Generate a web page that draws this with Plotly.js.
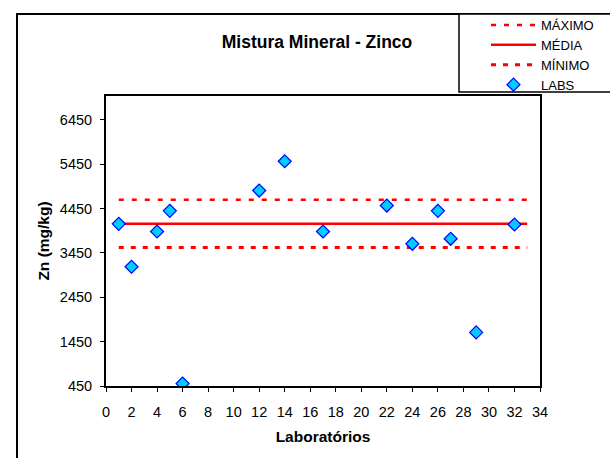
<!DOCTYPE html>
<html>
<head>
<meta charset="utf-8">
<script src="https://cdn.plot.ly/plotly-3.0.1.min.js"></script>
<style>html,body{margin:0;padding:0;background:#fff;}#chart{width:610px;height:458px;}</style>
</head>
<body>
<div id="chart"></div>
<script>
// Data
var labIds = [1, 2, 4, 5, 6, 12, 14, 17, 22, 24, 26, 27, 29, 32];
var labValues = [4108, 3139, 3934, 4400, 504, 4858, 5518, 3934, 4520, 3657, 4400, 3770, 1659, 4092];
var refX = [1, 33];
var maximo = 4648;
var media = 4108;
var minimo = 3574;
var xTicks = [0, 2, 4, 6, 8, 10, 12, 14, 16, 18, 20, 22, 24, 26, 28, 30, 32, 34];
var yTicks = [450, 1450, 2450, 3450, 4450, 5450, 6450];

var font = 'Liberation Sans, Arial, sans-serif';

var traces = [
  {x: refX, y: [maximo, maximo], name: 'MÁXIMO', mode: 'lines',
   line: {color: '#FF0000', width: 2.5, dash: '5px,8px'}},
  {x: refX, y: [media, media], name: 'MÉDIA', mode: 'lines',
   line: {color: '#FF0000', width: 2.5}},
  {x: refX, y: [minimo, minimo], name: 'MÍNIMO', mode: 'lines',
   line: {color: '#FF0000', width: 3, dash: '5px,7px'}},
  {x: labIds, y: labValues, name: 'LABS', mode: 'markers',
   marker: {symbol: 'diamond', size: 10, color: '#00CCFF', line: {color: '#0000FF', width: 1.2}}}
];

var layout = {
  width: 610, height: 458,
  margin: {l: 106, r: 70, t: 96, b: 72, autoexpand: false},
  paper_bgcolor: '#ffffff', plot_bgcolor: '#ffffff',
  font: {family: font, size: 12, color: '#000'},
  showlegend: true,
  title: {text: '<b>Mistura Mineral - Zinco</b>', font: {family: font, size: 17.5, color: '#000'},
          x: 317/610, xanchor: 'center', y: 1 - 42/458, yanchor: 'middle'},
  xaxis: {range: [0, 34], tickvals: xTicks, ticktext: xTicks.map(String),
          showgrid: false, zeroline: false, showline: true, mirror: true,
          linecolor: '#000', linewidth: 2, ticks: 'outside', ticklen: 4, tickwidth: 1, tickcolor: '#000',
          tickfont: {family: font, size: 14.5}, ticklabelstandoff: 8, fixedrange: true,
          title: {text: '<b>Laboratórios</b>', font: {family: font, size: 15.5}, standoff: 12}},
  yaxis: {range: [450, 6990], tickvals: yTicks, ticktext: yTicks.map(String),
          showgrid: false, zeroline: false, showline: true, mirror: true,
          linecolor: '#000', linewidth: 2, ticks: 'outside', ticklen: 4, tickwidth: 1, tickcolor: '#000',
          tickfont: {family: font, size: 14.5}, ticklabelstandoff: 5, fixedrange: true,
          title: {text: '<b>Zn (mg/kg)</b>', font: {family: font, size: 15.5}, standoff: 6}},
  legend: {x: (486 - 106) / 434, xanchor: 'left', y: (386 - 10) / 290, yanchor: 'top',
           bgcolor: 'rgba(0,0,0,0)', borderwidth: 0, itemwidth: 45,
           font: {family: font, size: 13, color: '#000'}, tracegroupgap: 0},
  shapes: [
    {type: 'rect', xref: 'paper', yref: 'paper', layer: 'below',
     x0: (17 - 106) / 434, x1: (640 - 106) / 434, y0: (386 - 480) / 290, y1: (386 - 14) / 290,
     line: {color: '#000', width: 2}, fillcolor: 'rgba(0,0,0,0)'},
    {type: 'rect', xref: 'paper', yref: 'paper', layer: 'below',
     x0: (459 - 106) / 434, x1: (640 - 106) / 434, y0: (386 - 92) / 290, y1: (386 - 14) / 290,
     line: {color: '#000', width: 1.5}, fillcolor: '#ffffff'}
  ]
};

Plotly.newPlot('chart', traces, layout, {displayModeBar: false, staticPlot: true});
</script>
</body>
</html>
